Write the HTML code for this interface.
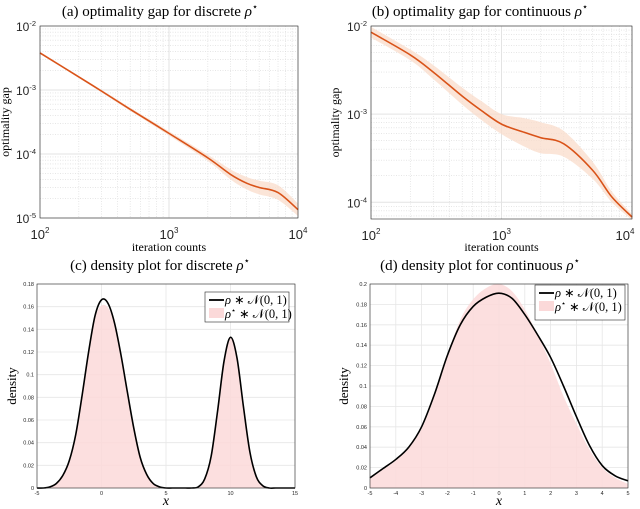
<!DOCTYPE html>
<html><head><meta charset="utf-8"><style>
html,body{margin:0;padding:0;background:#fff;width:640px;height:509px;overflow:hidden}
svg{display:block}
text{font-family:"Liberation Sans",sans-serif;fill:#262626}
.serif{font-family:"Liberation Serif",serif;fill:#000}
</style></head><body>
<svg id="fig" width="640" height="509" viewBox="0 0 640 509"></svg>
<script>
// ---- data: panel (a)
const aIter=[100,200,300,500,1000,2000,3000,4000,5000,7000,10000];
const aGap=[3.8e-3,1.6e-3,9.6e-4,5.0e-4,2.1e-4,8.7e-5,4.8e-5,3.5e-5,3.0e-5,2.5e-5,1.35e-5];
const aBand=[1.04,1.04,1.05,1.06,1.08,1.12,1.2,1.25,1.28,1.3,1.25];
// ---- data: panel (b)
const bIter=[100,200,300,500,700,1000,1500,2000,3000,5000,7000,10000];
const bGap=[8.5e-3,4.7e-3,3.0e-3,1.6e-3,1.1e-3,7.7e-4,6.2e-4,5.4e-4,4.6e-4,2.3e-4,1.15e-4,6.8e-5];
const bBand=[1.15,1.15,1.2,1.25,1.28,1.3,1.45,1.5,1.4,1.25,1.15,1.08];
// ---- data: panel (c)
const cX=[-5,-4.5,-4,-3.5,-3,-2.5,-2,-1.5,-1,-0.5,0,0.5,1,1.5,2,2.5,3,3.5,4,4.5,5,5.5,6,6.5,7,7.5,8,8.5,9,9.5,10,10.5,11,11.5,12,12.5,13,13.5,14,14.5,15];
const cFit=[0,0,0.001,0.004,0.011,0.024,0.047,0.082,0.12,0.152,0.166,0.163,0.146,0.118,0.085,0.053,0.027,0.012,0.004,0.001,0,0,0,0,0,0.001,0.008,0.028,0.068,0.112,0.133,0.115,0.072,0.032,0.01,0.002,0,0,0,0,0];
const cTrue=[0,0,0.001,0.004,0.011,0.024,0.047,0.082,0.119,0.15,0.161,0.159,0.145,0.118,0.085,0.053,0.027,0.012,0.004,0.001,0,0,0,0,0,0.001,0.008,0.028,0.068,0.112,0.132,0.115,0.072,0.032,0.01,0.002,0,0,0,0,0];
// ---- data: panel (d)
const dX=[-5,-4.5,-4,-3.5,-3,-2.5,-2,-1.5,-1,-0.5,0,0.5,1,1.5,2,2.5,3,3.5,4,4.5,5];
const dFit=[0.01,0.019,0.028,0.04,0.06,0.092,0.13,0.16,0.178,0.187,0.191,0.186,0.17,0.15,0.128,0.1,0.07,0.042,0.022,0.012,0.007];
const dTrue=[0.01,0.018,0.027,0.04,0.058,0.09,0.13,0.165,0.185,0.196,0.2,0.193,0.175,0.15,0.122,0.09,0.063,0.038,0.02,0.01,0.004];
const linTicksC=[0,0.02,0.04,0.06,0.08,0.1,0.12,0.14,0.16,0.18];
const linTicksD=[0,0.02,0.04,0.06,0.08,0.1,0.12,0.14,0.16,0.18,0.2];
const xTicksC=[-5,0,5,10,15];
const xTicksD=[-5,-4,-3,-2,-1,0,1,2,3,4,5];

const NS="http://www.w3.org/2000/svg";
const svg=document.getElementById('fig');
function mk(tag,attrs,parent){const e=document.createElementNS(NS,tag);for(const k in attrs)e.setAttribute(k,attrs[k]);(parent||svg).appendChild(e);return e;}
function smooth(pts){let d="M"+pts[0][0].toFixed(2)+","+pts[0][1].toFixed(2);
 for(let i=0;i<pts.length-1;i++){const p0=pts[Math.max(0,i-1)],p1=pts[i],p2=pts[i+1],p3=pts[Math.min(pts.length-1,i+2)];
  const c1=[p1[0]+(p2[0]-p0[0])/6,p1[1]+(p2[1]-p0[1])/6],c2=[p2[0]-(p3[0]-p1[0])/6,p2[1]-(p3[1]-p1[1])/6];
  d+=" C"+c1[0].toFixed(2)+","+c1[1].toFixed(2)+" "+c2[0].toFixed(2)+","+c2[1].toFixed(2)+" "+p2[0].toFixed(2)+","+p2[1].toFixed(2);}
 return d;}
function title(x,y,txt,name){const t=mk('text',{x:x,y:y,'text-anchor':'middle','font-size':15,class:'serif'});
 
 
 t.innerHTML=txt+' <tspan font-style="italic">ρ</tspan><tspan font-size="10" dy="-6">⋆</tspan>';}

// ---------- log panels
function logPanel(o){
 const g=mk('g',{});
 
 
 const X=v=>o.x0+(Math.log10(v)-2)/2*(o.x1-o.x0);
 const Y=v=>o.yTop+(o.lmax-Math.log10(v))/(o.lmax-o.lmin)*(o.yBot-o.yTop);
 for(let dec=2;dec<4;dec++)for(let m=2;m<10;m++){const xx=X(m*Math.pow(10,dec));mk('line',{x1:xx,x2:xx,y1:o.yTop,y2:o.yBot,stroke:'#d8d8d8','stroke-width':0.6,'stroke-dasharray':'1,1.5'},g);}
 for(let dec=Math.floor(o.lmin);dec<o.lmax;dec++)for(let m=1;m<10;m++){const v=m*Math.pow(10,dec);const yy=Y(v);if(yy<o.yTop||yy>o.yBot||m==1)continue;mk('line',{x1:o.x0,x2:o.x1,y1:yy,y2:yy,stroke:'#d8d8d8','stroke-width':0.6,'stroke-dasharray':'1,1.5'},g);}
 [100,1000,10000].forEach(v=>{mk('line',{x1:X(v),x2:X(v),y1:o.yTop,y2:o.yBot,stroke:'#e3e3e3','stroke-width':1},g);});
 o.yt.forEach(e=>{mk('line',{x1:o.x0,x2:o.x1,y1:Y(Math.pow(10,e)),y2:Y(Math.pow(10,e)),stroke:'#e3e3e3','stroke-width':1},g);});
 const up=o.iters.map((v,i)=>[X(v),Y(o.gap[i]*o.band[i])]);
 const lo=o.iters.map((v,i)=>[X(v),Y(o.gap[i]/o.band[i])]).reverse();
 const band=mk('path',{d:smooth(up)+" L"+smooth(lo).slice(1)+" Z",fill:'#f9dccb','fill-opacity':0.75,stroke:'none'},g);
 
 
 const line=mk('path',{d:smooth(o.iters.map((v,i)=>[X(v),Y(o.gap[i])])),fill:'none',stroke:'#d95319','stroke-width':1.6},g);
 
 
 mk('rect',{x:o.x0,y:o.yTop,width:o.x1-o.x0,height:o.yBot-o.yTop,fill:'none',stroke:'#262626','stroke-width':0.6},g);
 [[100,2],[1000,3],[10000,4]].forEach(t=>{let xx=X(t[0]);if(xx>625)xx=625;const tx=mk('text',{x:xx,y:o.yBot+21,'text-anchor':'middle','font-size':13},g);
  
  
  tx.innerHTML='10<tspan font-size="8" dy="-6">'+t[1]+'</tspan>';});
 o.yt.forEach(e=>{const tx=mk('text',{x:o.x0-4,y:Y(Math.pow(10,e))+5,'text-anchor':'end','font-size':12},g);
  
  
  tx.innerHTML='10<tspan font-size="7.5" dy="-5">'+e+'</tspan>';});
 const xl=mk('text',{x:(o.x0+o.x1)/2,y:251,'text-anchor':'middle','font-size':12,class:'serif'},g);
 
 
 xl.textContent='iteration counts';
 const yc=(o.yTop+o.yBot)/2;
 const yl=mk('text',{x:o.ylx,y:yc,'text-anchor':'middle','font-size':12,class:'serif',transform:'rotate(-90 '+o.ylx+' '+yc+')'},g);
 
 
 yl.textContent='optimality gap';
}
logPanel({name:'panel-a',x0:40,x1:298,yTop:26,yBot:218,lmax:-2,lmin:-5,iters:aIter,gap:aGap,band:aBand,yt:[-2,-3,-4,-5],ylx:9});
logPanel({name:'panel-b',x0:371,x1:632,yTop:26,yBot:219,lmax:-2,lmin:-4.19,iters:bIter,gap:bGap,band:bBand,yt:[-2,-3,-4],ylx:339});
title(160,16,'(a) optimality gap for discrete','title-a');
title(480,16,'(b) optimality gap for continuous','title-b');

// ---------- density panels
function densPanel(o){
 const g=mk('g',{});
 
 
 const X=v=>o.x0+(v-o.xmin)/(o.xmax-o.xmin)*(o.x1-o.x0);
 const Y=v=>o.yBot-(v/o.ymax)*(o.yBot-o.yTop);
 o.xt.forEach(v=>mk('line',{x1:X(v),x2:X(v),y1:o.yTop,y2:o.yBot,stroke:'#e6e6e6','stroke-width':0.8},g));
 o.yt.forEach(v=>mk('line',{x1:o.x0,x2:o.x1,y1:Y(v),y2:Y(v),stroke:'#e6e6e6','stroke-width':0.8},g));
 const tp=o.xs.map((v,i)=>[X(v),Y(o.tru[i])]);
 const area=mk('path',{d:smooth(tp)+" L"+X(o.xs[o.xs.length-1])+","+Y(0)+" L"+X(o.xs[0])+","+Y(0)+" Z",fill:'#fbd9d9','fill-opacity':0.85,stroke:'none'},g);
 
 
 const ln=mk('path',{d:smooth(o.xs.map((v,i)=>[X(v),Y(o.fit[i])])),fill:'none',stroke:'#000','stroke-width':1.6},g);
 
 
 mk('rect',{x:o.x0,y:o.yTop,width:o.x1-o.x0,height:o.yBot-o.yTop,fill:'none',stroke:'#262626','stroke-width':0.6},g);
 o.xt.forEach(v=>{const t=mk('text',{x:X(v),y:o.yBot+7,'text-anchor':'middle','font-size':5.5},g);
  
  
  t.textContent=v;});
 o.yt.forEach(v=>{const t=mk('text',{x:o.x0-3,y:Y(v)+2,'text-anchor':'end','font-size':5.5},g);
  
  
  t.textContent=String(v);});
 const xl=mk('text',{x:(o.x0+o.x1)/2,y:505,'text-anchor':'middle','font-size':14,'font-style':'italic',class:'serif'},g);
 
 
 xl.textContent='x';
 const yc=(o.yTop+o.yBot)/2;
 const yl=mk('text',{x:o.ylx,y:yc,'text-anchor':'middle','font-size':13,class:'serif',transform:'rotate(-90 '+o.ylx+' '+yc+')'},g);
 
 
 yl.textContent='density';
 const L=o.leg;
 const lg=mk('g',{},g);
 
 
 mk('rect',{x:L[0],y:L[1],width:L[2],height:L[3],fill:'#fff',stroke:'#262626','stroke-width':0.6},lg);
 mk('line',{x1:L[0]+4,x2:L[0]+19,y1:L[1]+8,y2:L[1]+8,stroke:'#000','stroke-width':1.8},lg);
 mk('rect',{x:L[0]+4,y:L[1]+16,width:15,height:10,fill:'#fbd9d9'},lg);
 const t1=mk('text',{x:L[0]+20,y:L[1]+12,'font-size':12.5,class:'serif'},lg);
 
 
 t1.innerHTML='<tspan font-style="italic">ρ</tspan> ∗ 𝒩(0, 1)';
 const t2=mk('text',{x:L[0]+20,y:L[1]+26,'font-size':12.5,class:'serif'},lg);
 
 
 t2.innerHTML='<tspan font-style="italic">ρ</tspan><tspan font-size="8" dy="-5">⋆</tspan><tspan dy="5"> ∗ 𝒩(0, 1)</tspan>';
}
densPanel({name:'panel-c',x0:37,x1:295,yTop:284,yBot:488,xmin:-5,xmax:15,ymax:0.18,xs:cX,fit:cFit,tru:cTrue,xt:xTicksC,yt:linTicksC,ylx:16,leg:[205,292,84,30]});
densPanel({name:'panel-d',x0:370,x1:628,yTop:284,yBot:488,xmin:-5,xmax:5,ymax:0.2,xs:dX,fit:dFit,tru:dTrue,xt:xTicksD,yt:linTicksD,ylx:348,leg:[535,285,90,35]});
title(160,270,'(c) density plot for discrete','title-c');
title(480,270,'(d) density plot for continuous','title-d');
</script>
</body></html>
